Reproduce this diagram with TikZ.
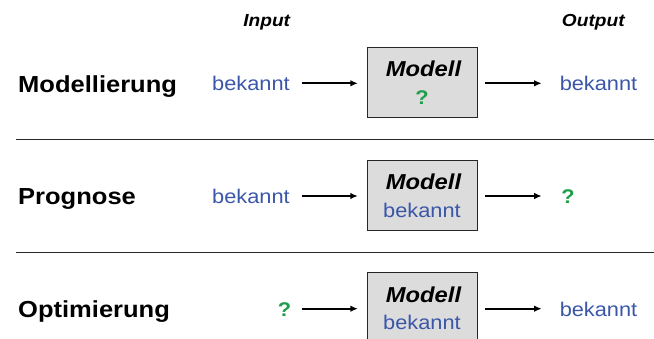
\documentclass[tikz,border=0pt]{standalone}
\usepackage{fontspec}
\setmainfont{Liberation Sans}[FakeStretch=1.1]
\usetikzlibrary{arrows.meta}
\definecolor{kblue}{HTML}{3A56A8}
\definecolor{kgreen}{HTML}{1E9E4A}
\definecolor{boxgray}{HTML}{DCDCDC}
\tikzset{
  txt/.style={inner sep=0pt, anchor=base},
  rowlabel/.style={inner sep=0pt, anchor=base west, font=\fontsize{23.2}{27}\selectfont\bfseries},
  head/.style={txt, font=\fontsize{17.4}{20}\selectfont\bfseries\itshape},
  known/.style={txt, text=kblue, font=\fontsize{19.8}{23}\selectfont},
  unknown/.style={txt, text=kgreen, font=\fontsize{19.8}{23}\selectfont\bfseries},
  modtxt/.style={txt, font=\fontsize{21.6}{25}\selectfont\bfseries\itshape},
  modelbox/.style={draw=black!85, line width=0.8pt, fill=boxgray, minimum width=110pt, minimum height=70pt, inner sep=0pt},
  arr/.style={line width=1.7pt, -{Latex[length=7.5pt,width=6.5pt]}},
  sep/.style={line width=0.8pt, black!85}
}
\begin{document}
\begin{tikzpicture}[x=1pt,y=1pt]
\useasboundingbox (0,0) rectangle (654,338);
\clip (0,0) rectangle (654,338);
% headers
\node[head] (hin) at (266.7,311.3) {Input};
\node[head] (hout) at (593.3,311.3) {Output};
% separators
\coordinate (s1a) at (16,198.3); \coordinate (s1b) at (654,198.3);
\coordinate (s2a) at (16,85.6); \coordinate (s2b) at (654,85.6);
\draw[sep] (s1a) -- (s1b);
\draw[sep] (s2a) -- (s2b);
% row 1
\node[rowlabel] (l1) at (18,245.7) {Modellierung};
\node[known] (in1) at (251,247.3) {bekannt};
\node[modelbox] (b1) at (422,255.7) {};
\node[modtxt] (m1) at (423.5,261.3) {Modell};
\node[unknown] (q1) at (422,233.5) {?};
\node[known] (out1) at (598.5,247.3) {bekannt};
\coordinate (a1s) at (301.7,254.7);
\coordinate (a1e) at (541.7,254.7);
\draw[arr, shorten >=8.7pt] (a1s) -- (b1.west |- a1s);
\draw[arr, shorten <=8pt] (b1.east |- a1e) -- (a1e);
% row 2
\node[rowlabel] (l2) at (18,133.0) {Prognose};
\node[known] (in2) at (251,134.6) {bekannt};
\node[modelbox] (b2) at (422,143.0) {};
\node[modtxt] (m2) at (423.5,148.6) {Modell};
\node[known] (k2) at (422,120.8) {bekannt};
\node[unknown] (out2) at (568,134.6) {?};
\coordinate (a2s) at (301.7,142.0);
\coordinate (a2e) at (541.7,142.0);
\draw[arr, shorten >=8.7pt] (a2s) -- (b2.west |- a2s);
\draw[arr, shorten <=8pt] (b2.east |- a2e) -- (a2e);
% row 3
\node[rowlabel] (l3) at (18,20.3) {Optimierung};
\node[unknown] (in3) at (284.5,21.9) {?};
\node[modelbox] (b3) at (422,30.3) {};
\node[modtxt] (m3) at (423.5,35.9) {Modell};
\node[known] (k3) at (422,8.1) {bekannt};
\node[known] (out3) at (598.5,21.9) {bekannt};
\coordinate (a3s) at (301.7,29.3);
\coordinate (a3e) at (541.7,29.3);
\draw[arr, shorten >=8.7pt] (a3s) -- (b3.west |- a3s);
\draw[arr, shorten <=8pt] (b3.east |- a3e) -- (a3e);
\end{tikzpicture}
\end{document}
